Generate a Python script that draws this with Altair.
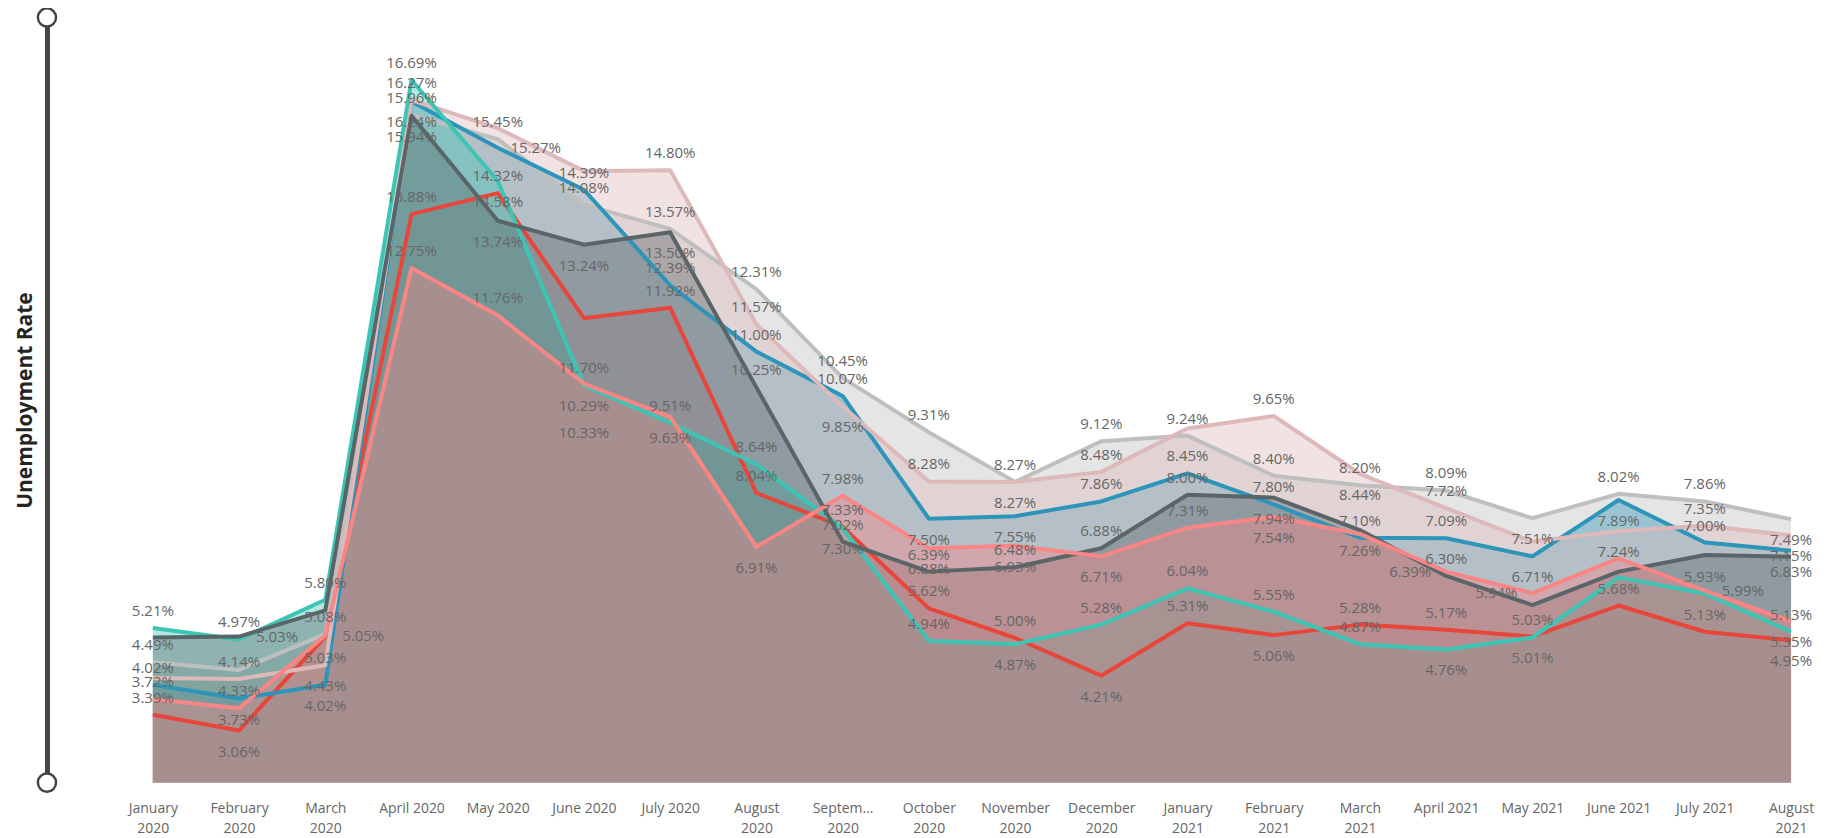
import altair as alt
import pandas as pd

MONTHS = ["January 2020", "February 2020", "March 2020", "April 2020", "May 2020",
          "June 2020", "July 2020", "August 2020", "September 2020", "October 2020",
          "November 2020", "December 2020", "January 2021", "February 2021", "March 2021",
          "April 2021", "May 2021", "June 2021", "July 2021", "August 2021"]
TICK_LABELS = ["January|2020", "February|2020", "March|2020", "April 2020", "May 2020",
               "June 2020", "July 2020", "August|2020", "Septem...|2020", "October|2020",
               "November|2020", "December|2020", "January|2021", "February|2021", "March|2021",
               "April 2021", "May 2021", "June 2021", "July 2021", "August|2021"]

RED = [3.39, 3.06, 5.03, 13.88, 14.32, 11.70, 11.92, 8.04, 7.33, 5.62,
       5.00, 4.21, 5.31, 5.06, 5.28, 5.17, 5.03, 5.68, 5.13, 4.95]
LIGHT_GRAY = [4.49, 4.33, 5.08, 15.96, 15.45, 14.08, 13.57, 12.31, 10.45, 9.31,
              8.27, 9.12, 9.24, 8.40, 8.20, 8.09, 7.51, 8.02, 7.86, 7.49]
BLUE = [4.02, 3.73, 4.02, 16.24, 15.27, 14.39, 12.39, 11.00, 10.07, 7.50,
        7.55, 7.86, 8.45, 7.80, 7.10, 7.09, 6.71, 7.89, 7.00, 6.83]
PINK = [4.16, 4.14, 4.43, 16.27, 15.68, 14.78, 14.80, 11.57, 9.85, 8.28,
        8.27, 8.48, 9.39, 9.65, 8.44, 7.72, 7.02, 7.24, 7.35, 7.15]
TEAL = [5.21, 4.97, 5.80, 16.69, 14.58, 10.29, 9.51, 8.64, 7.30, 4.94,
        4.87, 5.28, 6.04, 5.55, 4.87, 4.76, 5.01, 6.27, 5.93, 5.13]
DARK_GRAY = [5.01, 5.03, 5.58, 15.94, 13.74, 13.24, 13.50, 10.25, 7.02, 6.39,
             6.48, 6.88, 8.00, 7.94, 7.26, 6.30, 5.69, 6.39, 6.74, 6.70]
SALMON = [3.72, 3.53, 5.05, 12.75, 11.76, 10.33, 9.63, 6.91, 7.98, 6.88,
          6.93, 6.71, 7.31, 7.54, 7.18, 6.39, 5.94, 6.67, 5.99, 5.35]

# drawing order (first = bottom)
SERIES = {"Red": RED, "Light gray": LIGHT_GRAY, "Blue": BLUE, "Pink": PINK,
          "Teal": TEAL, "Dark gray": DARK_GRAY, "Salmon": SALMON}

# ---- styling (kept apart from data) ----
COLORS = {"Light gray": "#BFBFBF", "Blue": "#2D94BA", "Pink": "#DDB9B9",
          "Dark gray": "#5A6567", "Teal": "#3CC5B4", "Red": "#E8463A", "Salmon": "#FA8585"}
Y_MIN, Y_MAX = 1.97, 18.0

HIDDEN = {("Dark gray", 0), ("Pink", 0), ("Salmon", 1), ("Dark gray", 2), ("Pink", 4),
          ("Pink", 5), ("Pink", 12), ("Salmon", 14), ("Dark gray", 16), ("Pink", 16),
          ("Teal", 17), ("Dark gray", 17), ("Salmon", 17), ("Dark gray", 18), ("Dark gray", 19)}
PLACE = {
    ("Light gray", 1): "b", ("Blue", 1): "b", ("Red", 1): "b", ("Dark gray", 1): "r",
    ("Salmon", 2): "r", ("Red", 2): "b", ("Pink", 2): "b", ("Blue", 2): "b",
    ("Blue", 3): "b", ("Dark gray", 3): "b",
    ("Blue", 4): "r", ("Teal", 4): "b", ("Dark gray", 4): "b",
    ("Dark gray", 5): "b", ("Red", 5): "B", ("Teal", 5): "b", ("Salmon", 5): "B",
    ("Dark gray", 6): "b", ("Salmon", 6): "b",
    ("Salmon", 7): "b",
    ("Pink", 8): "b", ("Teal", 8): "b",
    ("Blue", 9): "b", ("Salmon", 9): "b",
    ("Pink", 10): "b", ("Blue", 10): "b", ("Teal", 10): "b", ("Salmon", 10): "b",
    ("Salmon", 11): "b", ("Red", 11): "b",
    ("Dark gray", 13): "b", ("Salmon", 13): "b", ("Red", 13): "b",
    ("Pink", 14): "b", ("Dark gray", 14): "b",
    ("Salmon", 15): "l", ("Teal", 15): "b",
    ("Light gray", 16): "b", ("Blue", 16): "b", ("Salmon", 16): "l", ("Teal", 16): "b",
    ("Blue", 17): "b", ("Pink", 17): "b",
    ("Salmon", 18): "r",
    ("Light gray", 19): "b", ("Pink", 19): "b", ("Blue", 19): "b", ("Salmon", 19): "b", ("Red", 19): "b",
}
OFFSETS = {"a": (0, -17), "b": (0, 21), "B": (0, 50), "r": (38, 0), "l": (-36, 0)}

rows = []
for name, vals in SERIES.items():
    for i, (m, t, v) in enumerate(zip(MONTHS, TICK_LABELS, vals)):
        rows.append({"series": name, "month": m, "tick": t, "value": v,
                     "label": f"{v:.2f}%", "place": PLACE.get((name, i), "a"),
                     "shown": (name, i) not in HIDDEN})
df = pd.DataFrame(rows)

W, H = 1640, 766

x_enc = alt.X("tick:N", sort=TICK_LABELS, scale=alt.Scale(type="point", padding=0),
              axis=alt.Axis(title=None, labelExpr="split(datum.label, '|')", labelAngle=0,
                            domain=False, ticks=False, grid=False, labelFont="Open Sans",
                            labelFontSize=14, labelColor="#666666", labelPadding=19,
                            labelLineHeight=20, labelBaseline="top", labelOverlap=False))
y_scale = alt.Scale(domain=[Y_MIN, Y_MAX], zero=False, nice=False)
y_axis = alt.Axis(title="Unemployment Rate", labels=False, ticks=False, grid=False,
                  domain=True, domainColor="#444444", domainWidth=5, offset=106,
                  titleFont="Open Sans", titleFontWeight="bold", titleFontSize=21,
                  titleColor="#252423", titlePadding=11)
y_enc = alt.Y("value:Q", scale=y_scale, axis=y_axis)

base = alt.Chart(df)
layers = []
for name in SERIES:
    sub = base.transform_filter(alt.datum.series == name)
    layers.append(sub.mark_area(color=COLORS[name], opacity=0.4).encode(
        x=x_enc, y=y_enc, y2=alt.datum(Y_MIN)))
for name in SERIES:
    sub = base.transform_filter(alt.datum.series == name)
    layers.append(sub.mark_line(color=COLORS[name], strokeWidth=4, strokeJoin="round").encode(
        x=x_enc, y=y_enc))

for key, (dx, dy) in OFFSETS.items():
    layers.append(base.transform_filter(
        (alt.datum.place == key) & (alt.datum.shown == True)
    ).mark_text(font="Open Sans", fontSize=15, color="#666666", dx=dx, dy=dy,
                baseline="middle", align="center").encode(
        x=x_enc, y=y_enc, text="label:N"))

ends = pd.DataFrame({"value": [Y_MIN, Y_MAX]})
layers.append(alt.Chart(ends).mark_point(shape="circle", filled=True, fill="white",
                                         stroke="#444444", strokeWidth=2.5, size=330,
                                         opacity=1).encode(
    x=alt.value(-106), y=y_enc))

chart = alt.layer(*layers).properties(
    width=W, height=H,
    background="white",
    autosize=alt.AutoSizeParams(type="none"),
    padding={"left": 145, "top": 9, "right": 40, "bottom": 55},
).configure_view(strokeWidth=0, stroke=None)

chart.save("out.html", embed_options={"renderer": "svg", "actions": False})
